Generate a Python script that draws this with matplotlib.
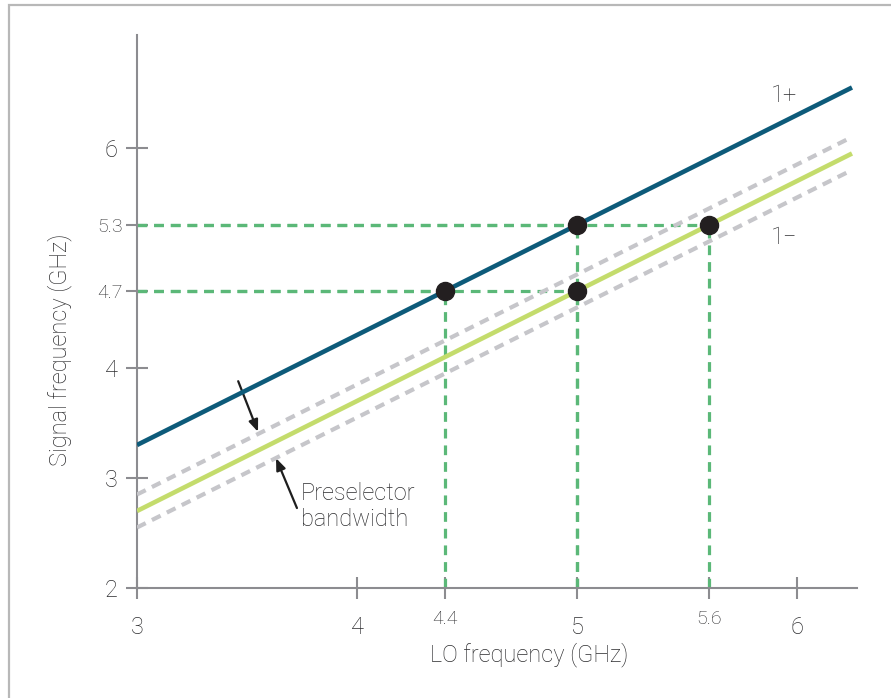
import matplotlib
matplotlib.use("Agg")
import matplotlib.pyplot as plt
from matplotlib.patches import Rectangle

plt.rcParams["font.family"] = ["Roboto", "DejaVu Sans"]
plt.rcParams["font.weight"] = "light"
plt.rcParams["lines.scale_dashes"] = False

# Data
lo_ends = [3.0, 6.25]
plus_line = [3.3, 6.55]     # 1+ : signal = LO + IF
minus_line = [2.7, 5.95]    # 1- : signal = LO - IF
band_upper = [2.85, 6.10]
band_lower = [2.55, 5.80]
lo_points = [4.4, 5.0, 5.0, 5.6]
sig_points = [4.7, 5.3, 4.7, 5.3]
x_major = [3, 4, 5, 6]
x_minor = [4.4, 5.6]
y_major = [2, 3, 4, 6]
y_minor = [4.7, 5.3]

BLUE = "#0d5b7a"
LIME = "#c4dc6c"
GREY = "#c6c6ca"
GREEN = "#5bb878"
AXC = "#8c8c90"
TXT = "#2c2c2e"

fig = plt.figure(figsize=(8.91, 6.98), dpi=100)
ax = fig.add_axes([137 / 891, 1 - 588 / 698, 720 / 891, 553 / 698])
ax.set_xlim(3, 3 + 720 / 220)
ax.set_ylim(2, 2 + 553 / 110)

# frame around figure
fig.patches.append(Rectangle((9 / 891, -0.2), 1.2, 1.2 - 5 / 698,
                             transform=fig.transFigure, fill=False,
                             edgecolor="#b8b8b8", linewidth=1.6))

# green dashed guides
for lo, sig in zip(lo_points, sig_points):
    ax.plot([3, lo], [sig, sig], color=GREEN, lw=2.3, dashes=(7, 5), zorder=2)
    ax.plot([lo, lo], [2, sig], color=GREEN, lw=2.3, dashes=(7, 5), zorder=2)

# preselector band + lines
ax.plot(lo_ends, band_upper, color=GREY, lw=3, dashes=(7, 5), zorder=3)
ax.plot(lo_ends, band_lower, color=GREY, lw=3, dashes=(7, 5), zorder=3)
ax.plot(lo_ends, minus_line, color=LIME, lw=3.3, zorder=4, solid_capstyle="butt")
ax.plot(lo_ends, plus_line, color=BLUE, lw=3.3, zorder=4, solid_capstyle="butt")
ax.plot(lo_points, sig_points, "o", color="#231f20", ms=13, zorder=5,
        clip_on=False)

ax.text(5.94, 6.48, "1+", fontsize=17, color=TXT, ha="center", va="center")
ax.text(5.94, 5.19, "1\u2212", fontsize=17, color=TXT, ha="center", va="center")

arrow = dict(arrowstyle="-|>,head_length=0.7,head_width=0.28", color="#1e1e1e",
             lw=1.6, shrinkA=0, shrinkB=0)
ax.annotate("", xy=(3.55, 3.42), xytext=(3.46, 3.88), arrowprops=arrow)
ax.annotate("", xy=(3.632, 3.18), xytext=(3.727, 2.727), arrowprops=arrow)
ax.text(3.745, 2.96, "Preselector\nbandwidth", fontsize=17, color=TXT,
        ha="left", va="top", linespacing=1.15)

# axes styling
for s in ["top", "right"]:
    ax.spines[s].set_visible(False)
for s in ["left", "bottom"]:
    ax.spines[s].set_color(AXC)
    ax.spines[s].set_linewidth(1.5)

ax.set_xticks(x_major)
ax.set_xticks(x_minor, minor=True)
ax.set_xticklabels([str(v) for v in x_major])
ax.set_xticklabels([str(v) for v in x_minor], minor=True)
ax.set_yticks(y_major)
ax.set_yticks(y_minor, minor=True)
ax.set_yticklabels([str(v) for v in y_major])
ax.set_yticklabels([str(v) for v in y_minor], minor=True)

ax.tick_params(axis="x", which="major", direction="inout", length=16, width=1.5,
               color=AXC, labelcolor=TXT, labelsize=17, pad=12)
ax.tick_params(axis="x", which="minor", direction="inout", length=16, width=1.5,
               color=AXC, labelcolor=TXT, labelsize=14, pad=8)
ax.tick_params(axis="y", which="major", direction="inout", length=16, width=1.5,
               color=AXC, labelcolor=TXT, labelsize=17, pad=6)
ax.tick_params(axis="y", which="minor", direction="inout", length=16, width=1.5,
               color=AXC, labelcolor=TXT, labelsize=14, pad=2)

ax.set_xlabel("LO frequency (GHz)", fontsize=17, color=TXT, fontweight="light")
ax.xaxis.set_label_coords((529 - 137) / 720, -(642 - 588) / 553)
ax.set_ylabel("Signal frequency (GHz)", fontsize=17, color=TXT,
              fontweight="light")
ax.yaxis.set_label_coords(-(137 - 72) / 720, (588 - 350) / 553)

fig.savefig("out.png", dpi=100)
